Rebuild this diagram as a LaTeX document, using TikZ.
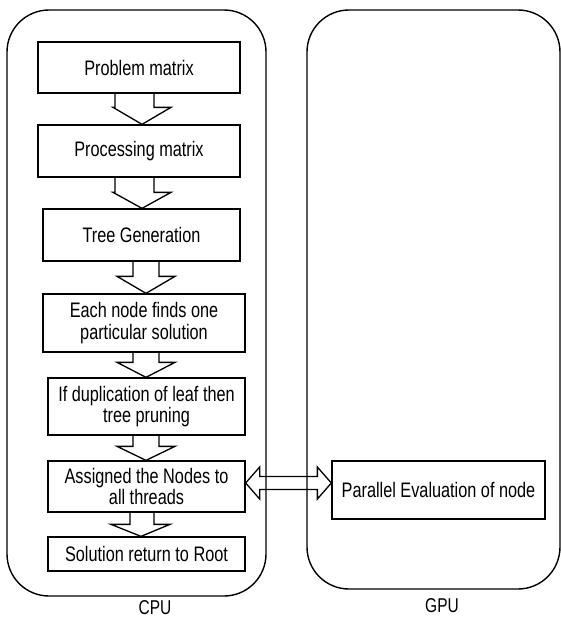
\documentclass[tikz,border=0pt]{standalone}
\usepackage{fontspec}
\setmainfont{Liberation Sans}[FakeStretch=0.775]
\usetikzlibrary{calc}
\tikzset{
  box/.style={draw, line width=1.3pt, align=center, inner sep=0pt,
    font=\fontsize{21}{21.5}\selectfont},
  cont/.style={draw, line width=1.4pt, rounded corners=42pt},
  blk/.style={draw, line width=1.3pt, line join=miter},
  lbl/.style={font=\fontsize{20}{21.5}\selectfont, inner sep=0pt}
}
\newcommand\blockarrow[8]{%
  \draw[blk] let \p1=(#1.south), \p2=(#2.north) in
    (#3pt,\y1) -- (#3pt,\y2+#8pt) -- (#5pt,\y2+#8pt) -- (#7pt,\y2)
    -- (#6pt,\y2+#8pt) -- (#4pt,\y2+#8pt) -- (#4pt,\y1);}
\begin{document}
\begin{tikzpicture}[x=1pt,y=-1pt]
\useasboundingbox (0,0) rectangle (561,618);
\clip (0,0) rectangle (561,618);
% containers
\draw[cont] (7,10) rectangle (266,596);
\draw[cont] (307,10) rectangle (560,589);
% boxes
\node[box, minimum width=202pt, minimum height=51pt] (pm) at (139,67.5) {Problem matrix};
\node[box, minimum width=202pt, minimum height=52pt] (proc) at (139,151) {Processing matrix};
\node[box, minimum width=197pt, minimum height=52pt] (tree) at (141.5,235) {Tree Generation};
\node[box, minimum width=202pt, minimum height=58pt] (each) at (144,323) {Each node finds one\\particular solution};
\node[box, minimum width=197pt, minimum height=57pt] (dup) at (146.5,406.5) {If duplication of leaf then\\tree pruning};
\node[box, minimum width=197pt, minimum height=51pt] (asg) at (146.5,486.5) {Assigned the Nodes to\\all threads};
\node[box, minimum width=197pt, minimum height=34pt] (sol) at (146.5,554) {Solution return to Root};
\node[box, minimum width=213pt, minimum height=58pt] (par) at (438.5,490) {Parallel Evaluation of node};
% block arrows
\blockarrow{pm}{proc}{115}{154}{113}{171}{142}{17}
\blockarrow{proc}{tree}{115}{154}{113}{171}{142}{16}
\blockarrow{tree}{each}{133}{159}{117}{175}{146}{17}
\blockarrow{each}{dup}{133}{159}{117}{175}{146}{15}
\blockarrow{dup}{asg}{133}{159}{117}{175}{146}{14}
\blockarrow{asg}{sol}{130}{154}{111}{170}{141}{12}
% double arrow
\draw[blk] let \p1=(asg.east), \p2=(par.west) in
  (\x1,-483pt) -- (\x1+14pt,-467pt) -- (\x1+14pt,-476.5pt) -- (\x2-14pt,-476.5pt)
  -- (\x2-14pt,-467pt) -- (\x2,-483pt) -- (\x2-14pt,-499pt) -- (\x2-14pt,-489.5pt)
  -- (\x1+14pt,-489.5pt) -- (\x1+14pt,-499pt) -- cycle;
% labels
\node[lbl, anchor=base] (cpu) at (155,614.5) {CPU};
\node[lbl, anchor=base] (gpu) at (442,612) {GPU};
\end{tikzpicture}
\end{document}
